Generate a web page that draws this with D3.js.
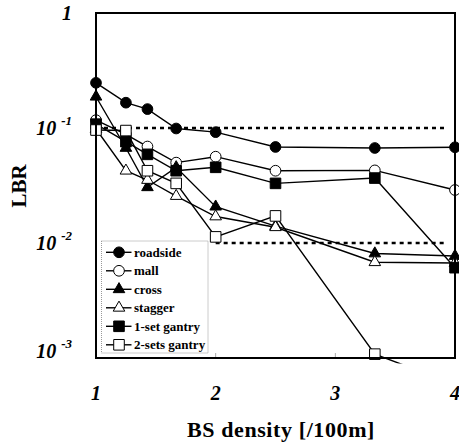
<!DOCTYPE html>
<html>
<head>
<meta charset="utf-8">
<script src="https://cdn.jsdelivr.net/npm/d3@7"></script>
<style>
  body { margin: 0; background: #fff; }
  svg { display: block; }
</style>
</head>
<body>
<div id="chart"></div>
<script>
// BS density values (x) shared by all series
var density = [1, 1.25, 1.43, 1.67, 2, 2.5, 3.33, 4];

// LBR values
var roadside = [0.247, 0.166, 0.146, 0.099, 0.092, 0.0684, 0.067, 0.068];
var mall = [0.117, 0.088, 0.069, 0.050, 0.0563, 0.0425, 0.0428, 0.0289];
var cross = [0.187, 0.067, 0.0305, 0.0455, 0.0207, 0.014, 0.0081, 0.0077];
var stagger = [0.098, 0.0425, 0.0353, 0.0256, 0.017, 0.0137, 0.0068, 0.0067];
var gantry1 = [0.108, 0.076, 0.059, 0.0425, 0.0455, 0.033, 0.0367, 0.0061];
var gantry2 = [0.096, 0.095, 0.0425, 0.033, 0.0113, 0.0172, 0.00108, 0.00059];

var seriesNames = ["roadside", "mall", "cross", "stagger", "1-set gantry", "2-sets gantry"];
var seriesValues = [roadside, mall, cross, stagger, gantry1, gantry2];
var seriesShape = ["circle", "circle", "triangle", "triangle", "square", "square"];
var seriesFilled = [true, false, true, false, true, false];

// dashed reference levels
var refLevels = [0.1, 0.01];
var refFrom = [1, 2];
var refTo = [3.93, 3.93];

// tick labels
var xTicks = [1, 2, 3, 4];
var yTickExp = [0, -1, -2, -3];

var svgWidth = 459;
var svgHeight = 445;
var margin = { top: 13, right: 4, bottom: 87, left: 96 };
var width = svgWidth - margin.left - margin.right;
var height = svgHeight - margin.top - margin.bottom;
var serif = "'Liberation Serif'";

var svg = d3.select("#chart")
    .append("svg")
    .attr("width", svgWidth)
    .attr("height", svgHeight);

var x = d3.scaleLinear().domain([1, 4]).range([margin.left, margin.left + width]);
var y = d3.scaleLog().domain([1e-3, 1]).range([margin.top + height, margin.top]);

// clip so the line that drops below 10^-3 only pokes out a little
svg.append("clipPath").attr("id", "clip")
    .append("rect")
    .attr("x", 0).attr("y", 0)
    .attr("width", svgWidth).attr("height", y(1e-3) + 5.5);

// small inner ticks on the bottom
svg.selectAll(".minor")
    .data([2, 3])
    .enter().append("line")
    .attr("x1", d => x(d)).attr("x2", d => x(d))
    .attr("y1", y(1e-3)).attr("y2", y(1e-3) - 5)
    .attr("stroke", "#aaa").attr("stroke-width", 1);

// dashed reference lines
svg.selectAll(".ref")
    .data(refLevels)
    .enter().append("line")
    .attr("x1", (d, i) => x(refFrom[i]))
    .attr("x2", (d, i) => x(refTo[i]))
    .attr("y1", d => y(d)).attr("y2", d => y(d))
    .attr("stroke", "#000")
    .attr("stroke-width", 2.5)
    .attr("stroke-dasharray", "4,4");

var line = d3.line()
    .x((d, i) => x(density[i]))
    .y(d => y(d));

function symbolFor(shape) {
    if (shape == "circle") return d3.symbol().type(d3.symbolCircle).size(90);
    if (shape == "square") return d3.symbol().type(d3.symbolSquare).size(112);
    return d3.symbol().type(d3.symbolTriangle).size(58);
}

seriesValues.forEach(function (vals, s) {
    svg.append("path")
        .datum(vals)
        .attr("clip-path", "url(#clip)")
        .attr("d", line)
        .attr("fill", "none")
        .attr("stroke", "#000")
        .attr("stroke-width", 1.4);

    svg.selectAll(".m" + s)
        .data(vals.filter(v => v >= 1e-3))
        .enter().append("path")
        .attr("d", symbolFor(seriesShape[s]))
        .attr("transform", (d, i) => `translate(${x(density[i])},${y(d)})`)
        .attr("fill", seriesFilled[s] ? "#000" : "#fff")
        .attr("stroke", "#000")
        .attr("stroke-width", 1);
});

// legend
var legend = svg.append("g");
legend.append("rect")
    .attr("x", 101.5).attr("y", 241)
    .attr("width", 106.5).attr("height", 112)
    .attr("fill", "#fff")
    .attr("stroke", "#999")
    .attr("stroke-width", 1)
    .attr("stroke-dasharray", "1,1");

seriesNames.forEach(function (name, s) {
    var ly = 252.3 + s * 18.5;
    legend.append("line")
        .attr("x1", 106).attr("x2", 131.5)
        .attr("y1", ly).attr("y2", ly)
        .attr("stroke", "#000").attr("stroke-width", 1.4);
    legend.append("path")
        .attr("d", symbolFor(seriesShape[s]))
        .attr("transform", `translate(119,${ly})`)
        .attr("fill", seriesFilled[s] ? "#000" : "#fff")
        .attr("stroke", "#000").attr("stroke-width", 1);
    legend.append("text")
        .attr("x", 134).attr("y", ly + 4.5)
        .style("font-family", serif)
        .style("font-weight", "bold")
        .style("font-size", "13px")
        .text(name);
});

// frame
svg.append("rect")
    .attr("x", margin.left).attr("y", margin.top)
    .attr("width", width).attr("height", height)
    .attr("fill", "none")
    .attr("stroke", "#000")
    .attr("stroke-width", 2);

// y tick labels
yTickExp.forEach(function (e) {
    var ty = y(Math.pow(10, e)) + 7;
    if (e == -3) ty -= 7;
    var t = svg.append("text")
        .attr("x", 72).attr("y", ty)
        .attr("text-anchor", "end")
        .style("font-family", serif)
        .style("font-weight", "bold")
        .style("font-style", "italic")
        .style("font-size", "20px");
    if (e == 0) {
        t.text("1");
    } else {
        t.append("tspan").text("10 ");
        t.append("tspan")
            .style("font-size", "13px")
            .attr("dy", -10)
            .text("-" + (-e));
    }
});

// x tick labels
svg.selectAll(".xt")
    .data(xTicks)
    .enter().append("text")
    .attr("x", d => x(d))
    .attr("y", 400)
    .attr("text-anchor", "middle")
    .style("font-family", serif)
    .style("font-weight", "bold")
    .style("font-style", "italic")
    .style("font-size", "20px")
    .text(d => d);

// axis titles
svg.append("text")
    .attr("x", 281).attr("y", 437)
    .attr("text-anchor", "middle")
    .style("font-family", serif)
    .style("font-weight", "bold")
    .style("font-size", "22px")
    .style("letter-spacing", "0.6px")
    .text("BS density [/100m]");

svg.append("text")
    .attr("transform", "translate(26,186) rotate(-90)")
    .attr("text-anchor", "middle")
    .style("font-family", serif)
    .style("font-weight", "bold")
    .style("font-size", "21px")
    .text("LBR");
</script>
</body>
</html>
